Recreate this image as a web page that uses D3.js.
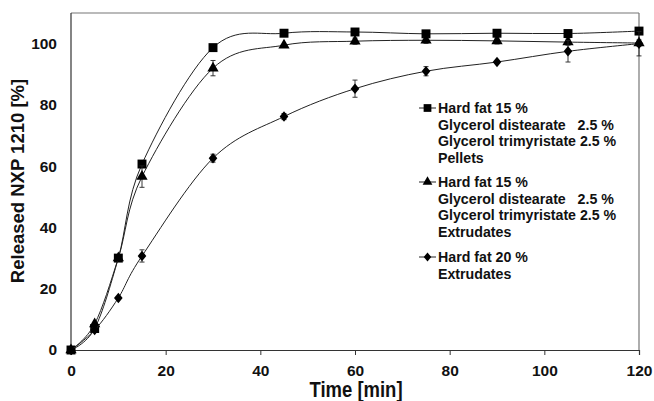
<!DOCTYPE html>
<html><head><meta charset="utf-8">
<script src="https://cdn.jsdelivr.net/npm/d3@7"></script>
<style>body{margin:0;background:#fff}svg{display:block}text{font-family:"Liberation Sans",Arial,sans-serif;font-weight:bold;fill:#111}</style>
</head><body><svg id="c" width="654" height="401"></svg>
<script>
const times = [0, 5, 10, 15, 30, 45, 60, 75, 90, 105, 120];
const pellets = [0, 7, 30, 60.7, 98.7, 103.4, 103.8, 103.2, 103.4, 103.3, 104.1];
const pelletsErr = [0, 0.5, 0.5, 1, 0.5, 0.5, 0.5, 0.5, 0.5, 0.5, 0.5];
const extr15 = [0, 8.5, 30, 56.6, 92, 99.5, 100.8, 101.1, 100.9, 100.5, 100.2];
const extr15Err = [0, 0.5, 0.5, 3.5, 2.5, 0.8, 1, 1, 1, 1, 1];
const extr20 = [0, 6.5, 17, 30.7, 62.6, 76.2, 85.3, 91, 94, 97.5, 100];
const extr20Err = [0, 0.5, 0.5, 2, 1.3, 1, 2.8, 1.5, 0.8, 3.5, 4];
const xTicks = [0, 20, 40, 60, 80, 100, 120];
const yTicks = [0, 20, 40, 60, 80, 100];
const legendLines = [
  ["Hard fat 15 %", "Glycerol distearate   2.5 %", "Glycerol trimyristate 2.5 %", "Pellets"],
  ["Hard fat 15 %", "Glycerol distearate   2.5 %", "Glycerol trimyristate 2.5 %", "Extrudates"],
  ["Hard fat 20 %", "Extrudates"]
];
const svg = d3.select("#c");
const L = 71, R = 639, T = 13, B = 350;
const x = d3.scaleLinear().domain([0, 120]).range([L, R]);
const y = d3.scaleLinear().domain([0, 110]).range([B, T]);

const wideDiamond = {draw(ctx, size) {
  const r = Math.sqrt(size) * 0.62;
  ctx.moveTo(0, -r * 1.1); ctx.lineTo(r * 0.9, 0); ctx.lineTo(0, r * 1.1); ctx.lineTo(-r * 0.9, 0); ctx.closePath();
}};

// frame
svg.append("line").attr("x1", L).attr("x2", R).attr("y1", T).attr("y2", T).attr("stroke", "#777").attr("stroke-width", 1.2);
svg.append("line").attr("x1", R).attr("x2", R).attr("y1", T).attr("y2", B).attr("stroke", "#777").attr("stroke-width", 1.2);

const xa = svg.append("g").attr("transform", `translate(0,${B})`)
  .call(d3.axisBottom(x).tickValues(xTicks).tickSize(5).tickPadding(10).tickFormat(d3.format("d")));
const ya = svg.append("g").attr("transform", `translate(${L},0)`)
  .call(d3.axisLeft(y).tickValues(yTicks).tickSize(0).tickPadding(14).tickFormat(d3.format("d")));
[xa, ya].forEach(g => {
  g.select(".domain").attr("stroke", "#333").attr("stroke-width", 1.2);
  g.selectAll(".tick line").attr("stroke", "#333");
  g.selectAll("text").attr("font-size", 15.5).attr("font-family", "Liberation Sans, Arial, sans-serif").attr("font-weight", "bold").attr("fill", "#111");
});
ya.select(".domain").attr("d", `M0,${T}V${B}`);

svg.append("text").attr("transform", "translate(356,397) scale(1,1.15)").attr("text-anchor", "middle").attr("font-size", 18.5).text("Time [min]");
svg.append("text").attr("transform", `translate(24,${181}) rotate(-90)`).attr("text-anchor", "middle").attr("font-size", 18.5).text("Released NXP 1210 [%]");

const series = [
  {v: pellets, e: pelletsErr, m: d3.symbolSquare, s: 80},
  {v: extr15, e: extr15Err, m: d3.symbolTriangle, s: 55},
  {v: extr20, e: extr20Err, m: wideDiamond, s: 60}
];
const line = d3.line().x(d => x(d[0])).y(d => y(d[1])).curve(d3.curveCardinal.tension(0));
series.forEach(sr => {
  const pts = times.map((t, i) => [t, sr.v[i], sr.e[i]]);
  svg.append("path").attr("d", line(pts)).attr("fill", "none").attr("stroke", "#222").attr("stroke-width", 1);
  const eb = svg.append("g").attr("stroke", "#222").attr("stroke-width", 0.9);
  pts.filter(p => p[2] > 0.9).forEach(p => {
    eb.append("line").attr("x1", x(p[0])).attr("x2", x(p[0])).attr("y1", y(p[1] - p[2])).attr("y2", y(p[1] + p[2]));
    [p[1] - p[2], p[1] + p[2]].forEach(v => eb.append("line").attr("x1", x(p[0]) - 2.5).attr("x2", x(p[0]) + 2.5).attr("y1", y(v)).attr("y2", y(v)));
  });
  svg.append("g").selectAll("path").data(pts).join("path")
    .attr("d", d3.symbol().type(sr.m).size(sr.s))
    .attr("transform", p => `translate(${x(p[0])},${y(p[1])})`).attr("fill", "#000");
});

// legend
const lg = svg.append("g");
const starts = [108, 182, 257];
legendLines.forEach((lines, k) => {
  const cy = starts[k];
  lg.append("line").attr("x1", 419).attr("x2", 436).attr("y1", cy).attr("y2", cy).attr("stroke", "#222").attr("stroke-width", 1);
  lg.append("path").attr("d", d3.symbol().type(series[k].m).size(series[k].s * 0.75)).attr("transform", `translate(427.5,${cy})`).attr("fill", "#000");
  lines.forEach((txt, j) => {
    lg.append("text").attr("x", 438).attr("y", cy + j * 16.7).attr("dy", "0.35em").attr("font-size", 14.2)
      .style("white-space", "pre").text(txt);
  });
});
</script></body></html>
